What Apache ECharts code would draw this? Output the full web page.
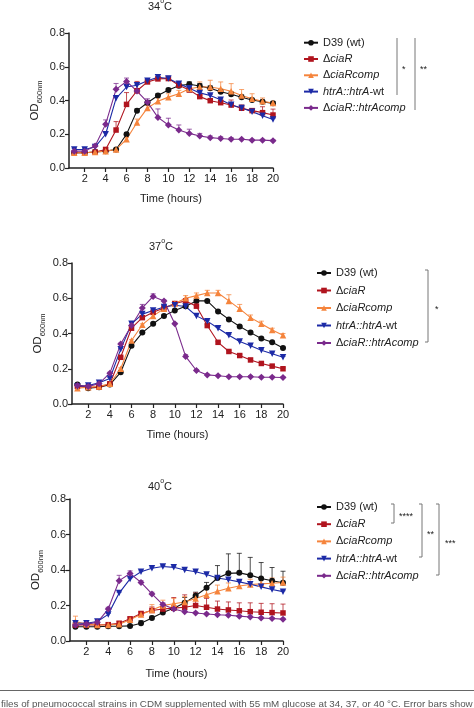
<!DOCTYPE html>
<html>
<head>
<meta charset="utf-8">
<script src="https://cdn.jsdelivr.net/npm/echarts@6/dist/echarts.min.js"></script>
<style>
html,body{margin:0;padding:0;background:#fff;}
#c{width:474px;height:708px;}
</style>
</head>
<body>
<div id="c"></div>
<script>
// ---------- data ----------
const hours = [1,2,3,4,5,6,7,8,9,10,11,12,13,14,15,16,17,18,19,20];
const xTicks = [2,4,6,8,10,12,14,16,18,20];
const strainNames = ['D39 (wt)','ΔciaR','ΔciaRcomp','htrA::htrA-wt','ΔciaR::htrAcomp'];
const panelTitles = ['34','37','40'];

// 34 °C
const d39_34  = [0.09,0.09,0.095,0.10,0.11,0.20,0.34,0.387,0.43,0.462,0.488,0.496,0.486,0.472,0.452,0.437,0.419,0.403,0.393,0.383];
const ciaR_34 = [0.09,0.09,0.095,0.11,0.225,0.377,0.458,0.51,0.528,0.53,0.49,0.462,0.423,0.399,0.387,0.373,0.354,0.34,0.328,0.314];
const comp_34 = [0.09,0.09,0.095,0.10,0.11,0.17,0.27,0.356,0.395,0.42,0.44,0.47,0.48,0.48,0.47,0.455,0.43,0.41,0.395,0.385];
const htrA_34 = [0.11,0.11,0.125,0.20,0.413,0.48,0.49,0.517,0.538,0.53,0.50,0.472,0.445,0.43,0.405,0.375,0.355,0.334,0.31,0.288];
const cmpl_34 = [0.10,0.10,0.13,0.26,0.466,0.513,0.456,0.39,0.30,0.255,0.225,0.205,0.19,0.18,0.175,0.17,0.17,0.165,0.165,0.162];
const e_d39_34  = [0,0,0,0,0.005,0.01,0.01,0.01,0.01,0.01,0.01,0.015,0.015,0.015,0.015,0.015,0.015,0.01,0.01,0.01];
const e_ciaR_34 = [0,0,0,0.01,0.05,0.07,0.055,0.01,0.01,0.005,0.01,0.01,0.01,0.01,0.02,0.03,0.02,0.01,0.035,0.035];
const e_comp_34 = [0,0,0,0,0.005,0.01,0.02,0.015,0.02,0.02,0.02,0.03,0.03,0.04,0.04,0.045,0.035,0.03,0.02,0.01];
const e_htrA_34 = [0.005,0.005,0.005,0.01,0.01,0.01,0.005,0.005,0.005,0.005,0.005,0.005,0.005,0.005,0.005,0.005,0.005,0.005,0.005,0.005];
const e_cmpl_34 = [0,0,0.01,0.025,0.035,0.02,0.01,0.02,0.05,0.04,0.03,0.025,0.015,0.01,0.01,0.01,0.005,0.005,0.005,0.005];

// 37 °C
const d39_37  = [0.11,0.09,0.095,0.11,0.18,0.33,0.405,0.455,0.50,0.53,0.555,0.585,0.585,0.525,0.48,0.44,0.405,0.372,0.35,0.318];
const ciaR_37 = [0.10,0.095,0.095,0.115,0.265,0.43,0.49,0.52,0.545,0.57,0.585,0.555,0.445,0.35,0.298,0.275,0.25,0.23,0.215,0.20];
const comp_37 = [0.09,0.095,0.10,0.115,0.20,0.36,0.45,0.50,0.54,0.57,0.60,0.615,0.63,0.63,0.585,0.54,0.49,0.455,0.42,0.39];
const htrA_37 = [0.10,0.105,0.12,0.145,0.31,0.455,0.51,0.53,0.55,0.56,0.553,0.50,0.47,0.43,0.39,0.355,0.33,0.305,0.285,0.265];
const cmpl_37 = [0.105,0.10,0.115,0.175,0.34,0.445,0.545,0.61,0.585,0.455,0.27,0.19,0.165,0.16,0.155,0.155,0.155,0.152,0.152,0.15];
const e_d39_37  = [0.005,0.005,0.005,0.005,0.005,0.005,0.005,0.005,0.005,0.005,0.005,0.005,0.005,0.005,0.005,0.005,0.005,0.005,0.005,0.005];
const e_ciaR_37 = [0.005,0.005,0.005,0.005,0.005,0.005,0.005,0.005,0.005,0.005,0.005,0.01,0.005,0.005,0.005,0.005,0.005,0.005,0.005,0.005];
const e_comp_37 = [0.005,0.005,0.005,0.005,0.005,0.005,0.005,0.01,0.01,0.01,0.015,0.015,0.015,0.015,0.035,0.025,0.015,0.015,0.01,0.01];
const e_htrA_37 = [0.005,0.005,0.005,0.005,0.005,0.005,0.005,0.005,0.005,0.005,0.005,0.005,0.005,0.005,0.005,0.005,0.005,0.005,0.005,0.005];
const e_cmpl_37 = [0.005,0.005,0.005,0.005,0.005,0.005,0.02,0.015,0.005,0.005,0.01,0.005,0.005,0.005,0.005,0.005,0.005,0.005,0.005,0.005];

// 40 °C
const d39_40  = [0.08,0.08,0.08,0.083,0.083,0.085,0.10,0.13,0.16,0.185,0.215,0.255,0.30,0.355,0.381,0.384,0.371,0.352,0.339,0.328];
const ciaR_40 = [0.09,0.09,0.09,0.092,0.10,0.125,0.155,0.172,0.18,0.185,0.19,0.20,0.19,0.18,0.175,0.17,0.165,0.162,0.16,0.158];
const comp_40 = [0.11,0.095,0.09,0.09,0.095,0.12,0.15,0.175,0.20,0.21,0.22,0.24,0.26,0.28,0.297,0.31,0.318,0.322,0.325,0.33];
const htrA_40 = [0.10,0.10,0.11,0.15,0.27,0.35,0.39,0.41,0.42,0.415,0.40,0.39,0.375,0.355,0.345,0.333,0.32,0.305,0.29,0.278];
const cmpl_40 = [0.09,0.095,0.105,0.18,0.34,0.38,0.33,0.265,0.205,0.18,0.165,0.158,0.152,0.148,0.145,0.14,0.135,0.13,0.127,0.123];
const e_d39_40  = [0.005,0.005,0.005,0.005,0.005,0.005,0.015,0.01,0.01,0.01,0.03,0.02,0.03,0.07,0.11,0.11,0.10,0.09,0.075,0.065];
const e_ciaR_40 = [0.005,0.005,0.005,0.005,0.01,0.01,0.01,0.02,0.03,0.06,0.07,0.07,0.05,0.045,0.045,0.045,0.05,0.05,0.05,0.05];
const e_comp_40 = [0.03,0.01,0.005,0.005,0.005,0.01,0.01,0.03,0.03,0.03,0.03,0.025,0.03,0.035,0.03,0.03,0.03,0.03,0.03,0.03];
const e_htrA_40 = [0.005,0.005,0.005,0.005,0.005,0.005,0.005,0.005,0.005,0.005,0.005,0.005,0.005,0.005,0.005,0.005,0.005,0.005,0.005,0.005];
const e_cmpl_40 = [0,0,0,0.01,0.03,0.015,0.01,0.01,0.01,0.005,0.005,0.005,0.005,0.005,0.005,0.005,0.005,0.005,0.005,0.005];

// ---------- style ----------
const FONT = '"Liberation Sans", Arial, sans-serif';
const colors = ['#111111','#b0141e','#f5843c','#1c2aa6','#7a2a8c'];
const symbols = ['circle','rect','triangle','triangle','diamond'];
const symRot = [0,0,0,180,0];
const symSize = [6,5.5,6.5,6.5,7];

const panels = [
  {means:[d39_34,ciaR_34,comp_34,htrA_34,cmpl_34], errs:[e_d39_34,e_ciaR_34,e_comp_34,e_htrA_34,e_cmpl_34],
   grid:{left:69, top:33, width:204, height:135}, title:{x:160,y:5}, legend:{left:303, top:36.2, gap:3.3}},
  {means:[d39_37,ciaR_37,comp_37,htrA_37,cmpl_37], errs:[e_d39_37,e_ciaR_37,e_comp_37,e_htrA_37,e_cmpl_37],
   grid:{left:72, top:263, width:211, height:141}, title:{x:161,y:245}, legend:{left:316, top:266.5, gap:4.5}},
  {means:[d39_40,ciaR_40,comp_40,htrA_40,cmpl_40], errs:[e_d39_40,e_ciaR_40,e_comp_40,e_htrA_40,e_cmpl_40],
   grid:{left:70, top:499, width:213, height:142}, title:{x:160,y:485}, legend:{left:316, top:500.5, gap:4.2}}
];

const legendRich = {
  'D39 (wt)':'{n|D39 (wt)}',
  'ΔciaR':'{n|Δ}{i|ciaR}',
  'ΔciaRcomp':'{n|Δ}{i|ciaRcomp}',
  'htrA::htrA-wt':'{i|htrA::htrA}{n|-wt}',
  'ΔciaR::htrAcomp':'{n|Δ}{i|ciaR::htrAcomp}'
};

const grids=[], xAxes=[], yAxes=[], series=[], legends=[], graphics=[];

panels.forEach((p, pi) => {
  grids.push(p.grid);
  xAxes.push({
    type:'value', gridIndex:pi, min:0.5, max:20,
    name:'Time (hours)', nameLocation:'middle', nameGap: pi===2 ? 27 : 25,
    nameTextStyle:{fontFamily:FONT, fontSize:11, color:'#222'},
    axisLine:{lineStyle:{color:'#222', width:1.5}},
    axisTick:{customValues:xTicks, length:4, lineStyle:{color:'#222', width:1.2}},
    axisLabel:{customValues:xTicks, fontFamily:FONT, fontSize:11, color:'#222', margin:5},
    splitLine:{show:false}
  });
  yAxes.push({
    type:'value', gridIndex:pi, min:0, max:0.8, interval:0.2,
    name:'{a|OD}{b|600nm}', nameLocation:'middle', nameGap:28, nameRotate:90,
    nameTextStyle:{fontFamily:FONT, color:'#222', rich:{
      a:{fontFamily:FONT, fontSize:11.5, color:'#222', lineHeight:14, verticalAlign:'bottom'},
      b:{fontFamily:FONT, fontSize:7.5, color:'#222', lineHeight:10, verticalAlign:'bottom', padding:[0,0,-3,0]}
    }},
    axisLine:{show:true, lineStyle:{color:'#222', width:1.5}},
    axisTick:{show:true, length:4, lineStyle:{color:'#222', width:1.2}},
    axisLabel:{fontFamily:FONT, fontSize:11, color:'#222', margin:4, formatter:v=>v.toFixed(1)},
    splitLine:{show:false}
  });
  p.means.forEach((m, si) => {
    const col = colors[si];
    const errData = hours.map((h,i)=>[h, m[i], p.errs[si][i]]);
    series.push({
      type:'custom', name:'err'+pi+'_'+si, xAxisIndex:pi, yAxisIndex:pi, z:1,
      silent:true,
      data: errData,
      encode:{x:0, y:1},
      renderItem:(params, api) => {
        const x=api.value(0), y=api.value(1), e=api.value(2);
        if (!e) return null;
        const p0=api.coord([x,y]), p1=api.coord([x,y+e]);
        return {type:'group', children:[
          {type:'line', shape:{x1:p0[0],y1:p0[1],x2:p1[0],y2:p1[1]}, style:{stroke:col, lineWidth:1, opacity:0.75}},
          {type:'line', shape:{x1:p1[0]-2.5,y1:p1[1],x2:p1[0]+2.5,y2:p1[1]}, style:{stroke:col, lineWidth:1, opacity:0.75}}
        ]};
      }
    });
    series.push({
      type:'line', name:strainNames[si], xAxisIndex:pi, yAxisIndex:pi, z:2,
      data: hours.map((h,i)=>[h, m[i]]),
      symbol:symbols[si], symbolRotate:symRot[si], symbolSize:symSize[si],
      showSymbol:true,
      lineStyle:{color:col, width:1.1},
      itemStyle:{color:col},
      emphasis:{disabled:true},
      animation:false
    });
  });
  legends.push({
    orient:'vertical', left:p.legend.left, top:p.legend.top, padding:0,
    itemWidth:14, itemHeight:7, itemGap:p.legend.gap,
    data:strainNames, selectedMode:false,
    formatter:name=>legendRich[name],
    textStyle:{fontFamily:FONT, fontSize:11, color:'#222', lineHeight:13, rich:{
      n:{fontFamily:FONT, fontSize:11, color:'#222', lineHeight:13},
      i:{fontFamily:FONT, fontSize:11, color:'#222', fontStyle:'italic', lineHeight:13}
    }}
  });
  graphics.push({
    type:'text', x:p.title.x, y:p.title.y,
    style:{
      text:'{n|'+panelTitles[pi]+'}{s|o}{n|C}',
      align:'center', verticalAlign:'middle',
      rich:{
        n:{fontFamily:FONT, fontSize:11, fill:'#222', lineHeight:14, verticalAlign:'bottom'},
        s:{fontFamily:FONT, fontSize:7, fill:'#222', lineHeight:14, verticalAlign:'top'}
      }
    }
  });
});

// significance brackets
const bcol = '#777';
function vline(x, y1, y2, ticks){
  const arr = [{type:'line', shape:{x1:x,y1:y1,x2:x,y2:y2}, style:{stroke:bcol, lineWidth:1}}];
  if (ticks) {
    arr.push({type:'line', shape:{x1:x-3,y1:y1,x2:x,y2:y1}, style:{stroke:bcol, lineWidth:1}});
    arr.push({type:'line', shape:{x1:x-3,y1:y2,x2:x,y2:y2}, style:{stroke:bcol, lineWidth:1}});
  }
  return arr;
}
function star(x, y, t){
  return {type:'text', x:x, y:y, style:{text:t, fontFamily:FONT, fontSize:9, fill:'#222', align:'left', verticalAlign:'middle'}};
}
graphics.push(...vline(397,38,95,false), star(402,70,'*'));
graphics.push(...vline(415,38,110,false), star(420,70,'**'));
graphics.push(...vline(428,270,342,true), star(435,310,'*'));
graphics.push(...vline(394,504,523,true), star(399,517,'****'));
graphics.push(...vline(422,504,557,true), star(427,535,'**'));
graphics.push(...vline(439,504,575,true), star(445,544,'***'));

// caption remnant
graphics.push({type:'line', shape:{x1:0,y1:690.5,x2:474,y2:690.5}, style:{stroke:'#666', lineWidth:1}});
graphics.push({type:'text', x:1, y:699.5, style:{
  text:'files of pneumococcal strains in CDM supplemented with 55 mM glucose at 34, 37, or 40 °C. Error bars show',
  fontFamily:FONT, fontSize:9.8, fill:'#555', align:'left', verticalAlign:'top'}});

const chart = echarts.init(document.getElementById('c'), null, {renderer:'canvas'});
chart.setOption({
  animation:false,
  backgroundColor:'#fff',
  grid:grids, xAxis:xAxes, yAxis:yAxes, legend:legends, series:series,
  graphic:graphics
});
</script>
</body>
</html>
